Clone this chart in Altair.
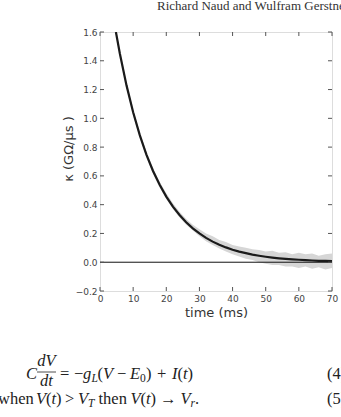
import altair as alt
import pandas as pd

# ---- data ----
t_fit = [4.8, 6, 8, 10, 12, 14, 16, 18, 20, 22, 24, 26, 28, 30, 32, 34, 36, 38, 40,
         42, 44, 46, 48, 50, 52, 54, 56, 58, 60, 62, 64, 66, 68, 70]
k_fit = [1.60, 1.449, 1.229, 1.042, 0.883, 0.748, 0.634, 0.538, 0.456, 0.386, 0.328,
         0.278, 0.235, 0.200, 0.169, 0.143, 0.121, 0.103, 0.087, 0.074, 0.063, 0.053,
         0.045, 0.038, 0.032, 0.027, 0.023, 0.020, 0.017, 0.014, 0.012, 0.010, 0.009, 0.007]

t_band = [4, 6, 8, 10, 12, 14, 16, 18, 20, 22, 24, 26, 28, 30, 32, 34, 36, 38, 40,
          42, 44, 46, 48, 50, 52, 54, 56, 58, 60, 62, 64, 66, 68, 70]
k_hi = [1.74, 1.47, 1.25, 1.06, 0.90, 0.77, 0.655, 0.56, 0.48, 0.41, 0.35, 0.30, 0.26,
        0.23, 0.20, 0.18, 0.155, 0.14, 0.12, 0.11, 0.10, 0.09, 0.085, 0.075, 0.08, 0.065,
        0.07, 0.055, 0.065, 0.055, 0.06, 0.045, 0.055, 0.06]
k_lo = [1.68, 1.43, 1.21, 1.02, 0.865, 0.73, 0.615, 0.52, 0.44, 0.37, 0.31, 0.26, 0.22,
        0.18, 0.145, 0.12, 0.095, 0.075, 0.055, 0.04, 0.025, 0.015, 0.0, -0.01, -0.02, -0.02,
        -0.03, -0.03, -0.04, -0.03, -0.045, -0.035, -0.05, -0.04]

x_ticks = [0, 10, 20, 30, 40, 50, 60, 70]
y_ticks = [-0.2, 0.0, 0.2, 0.4, 0.6, 0.8, 1.0, 1.2, 1.4, 1.6]

header_text = "Richard Naud and Wulfram Gerstner"
x_title = "time (ms)"
y_title = "κ (GΩ/μs )"

# ---- layout ----
W, H = 232, 259
SERIF = "Liberation Serif"
SANS = "DejaVu Sans"
FRAME = "#555555"

xs = alt.Scale(domain=[0, 70], nice=False, zero=False)
ys = alt.Scale(domain=[-0.2, 1.6], nice=False, zero=False)

AX_X = alt.Axis(values=x_ticks, format="d", ticks=False, domain=False, grid=False,
                labelFont=SANS, labelFontSize=9, labelColor="#444", labelPadding=3,
                labelFlush=False, title=x_title, titleFont=SANS, titleFontSize=13,
                titleFontWeight="normal", titleColor="#333", titlePadding=3)
AX_Y = alt.Axis(values=y_ticks, format=".1f", ticks=False, domain=False, grid=False,
                labelFont=SANS, labelFontSize=9, labelColor="#444", labelPadding=3,
                labelFlush=False, title=None)

df_fit = pd.DataFrame({"t": t_fit, "k": k_fit})
df_band = pd.DataFrame({"t": t_band, "lo": k_lo, "hi": k_hi})
df_xt = pd.DataFrame({"t": x_ticks})
df_yt = pd.DataFrame({"k": y_ticks})
one = pd.DataFrame({"a": [0]})

X = alt.X("t:Q", scale=xs, axis=AX_X, title=x_title)
Y = alt.Y("k:Q", scale=ys, axis=AX_Y, title=None)

band = alt.Chart(df_band).mark_area(color="#d6d6d6", clip=True).encode(
    x=X, y=alt.Y("lo:Q", scale=ys, axis=AX_Y, title=None), y2="hi:Q")

zero = alt.Chart(pd.DataFrame({"k": [0.0]})).mark_rule(color="#111", strokeWidth=1).encode(y=Y)

fit = alt.Chart(df_fit).mark_line(color="#1a1a1a", strokeWidth=2.2, clip=True).encode(x=X, y=Y)

tick_style = dict(color=FRAME, strokeWidth=1)
tb = alt.Chart(df_xt).mark_rule(**tick_style).encode(x=X, y=alt.value(H), y2=alt.value(H - 4))
tt = alt.Chart(df_xt).mark_rule(**tick_style).encode(x=X, y=alt.value(0), y2=alt.value(4))
tl = alt.Chart(df_yt).mark_rule(**tick_style).encode(y=Y, x=alt.value(0), x2=alt.value(4))
tr = alt.Chart(df_yt).mark_rule(**tick_style).encode(y=Y, x=alt.value(W), x2=alt.value(W - 4))

def txt(s, x, y, size, font=SERIF, style="normal", align="left", angle=None, color="#222"):
    kw = dict(font=font, fontSize=size, fontStyle=style, align=align,
              baseline="alphabetic", color=color)
    if angle is not None:
        kw["angle"] = angle
        kw["baseline"] = "middle"
        kw["align"] = "center"
    return alt.Chart(one).mark_text(**kw).encode(
        x=alt.value(x), y=alt.value(y), text=alt.value(s))

layers = [band, zero, fit, tb, tt, tl, tr]

OX, OY = 100, 32
# page running head
layers.append(txt(header_text, 157 - OX, 10 - OY, 13, color="#333"))
# y-axis title
layers.append(txt(y_title, 69 - OX, 149 - OY, 13, font=SANS, angle=270, color="#333"))

# equations, positions in page pixels
F = 16.5
S = 11.5
b1 = 379
eq1 = [
    ("C", 26, b1, F, "italic"),
    ("dV", 46.5, 366, F, "italic", "center"),
    ("dt", 46.5, 386, F, "italic", "center"),
    ("=", 60, b1, F, "normal"),
    ("−", 74, b1, F, "normal"),
    ("g", 83, b1, F, "italic"),
    ("L", 91.5, b1 + 3, S, "italic"),
    ("(", 97.5, b1, F, "normal"),
    ("V", 103, b1, F, "italic"),
    ("−", 117, b1, F, "normal"),
    ("E", 130, b1, F, "italic"),
    ("0", 140, b1 + 3, S, "normal"),
    (")", 146, b1, F, "normal"),
    ("+", 157, b1, F, "normal"),
    ("I", 172, b1, F, "italic"),
    ("(", 177.5, b1, F, "normal"),
    ("t", 183, b1, F, "italic"),
    (")", 187.5, b1, F, "normal"),
    ("(4)", 327, b1, F, "normal"),
]
b2 = 404
eq2 = [
    ("when", -2, b2, F, "normal"),
    ("V", 36, b2, F, "italic"),
    ("(", 46, b2, F, "normal"),
    ("t", 51.5, b2, F, "italic"),
    (")", 56, b2, F, "normal"),
    (">", 65, b2, F, "normal"),
    ("V", 78, b2, F, "italic"),
    ("T", 88, b2 + 3, S, "italic"),
    ("then", 98.5, b2, F, "normal"),
    ("V", 130.5, b2, F, "italic"),
    ("(", 140.5, b2, F, "normal"),
    ("t", 146, b2, F, "italic"),
    (")", 150.5, b2, F, "normal"),
    ("→", 159.9, b2, F, "normal"),
    ("V", 180.5, b2, F, "italic"),
    ("r", 190.6, b2 + 3, S, "italic"),
    (".", 195, b2, F, "normal"),
    ("(5)", 327, b2, F, "normal"),
]
for item in eq1 + eq2:
    s, x, y, size, style = item[:5]
    align = item[5] if len(item) > 5 else "left"
    layers.append(txt(s, x - OX, y - OY, size, style=style, align=align))

# fraction bar
layers.append(alt.Chart(one).mark_rule(color="#222", strokeWidth=0.8).encode(
    x=alt.value(37 - OX), x2=alt.value(56 - OX), y=alt.value(372 - OY)))

chart = alt.layer(*layers).properties(
    width=W, height=H,
    autosize=alt.AutoSizeParams(type="none"),
    padding={"left": OX, "top": OY, "right": 341 - OX - W, "bottom": 417 - OY - H},
).configure_view(stroke=FRAME, strokeWidth=1.5).configure(background="white")

chart.save("out.html", embed_options={"renderer": "svg", "actions": False})
